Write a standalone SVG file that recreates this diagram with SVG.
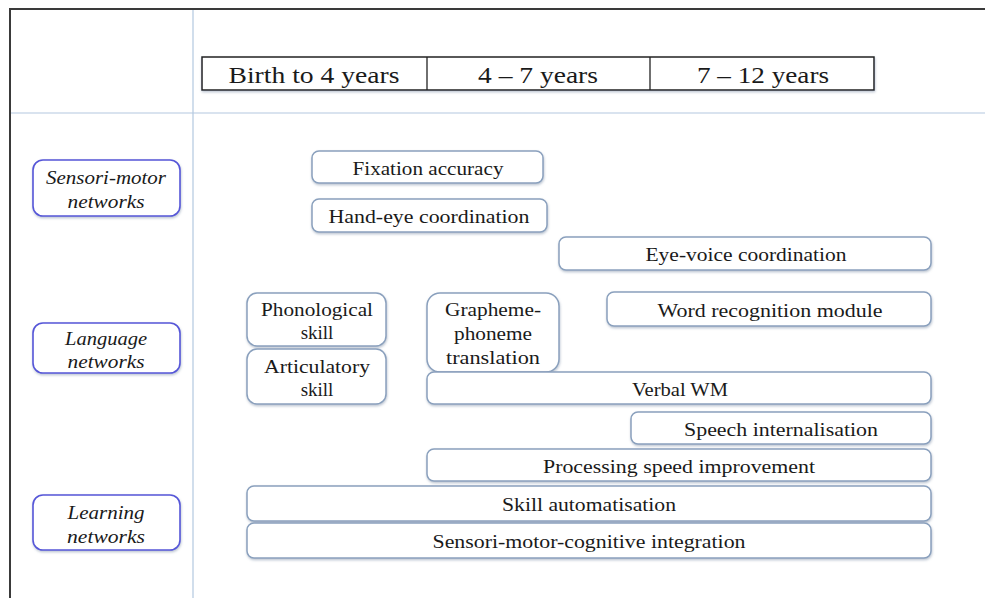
<svg xmlns="http://www.w3.org/2000/svg" width="985" height="598" viewBox="0 0 985 598">
<defs>
<filter id="sh" x="-5%" y="-20%" width="110%" height="150%">
<feDropShadow dx="0.5" dy="1.5" stdDeviation="1" flood-color="#6a7f99" flood-opacity="0.45"/>
</filter>
</defs>
<style>
.bg{fill:#ffffff}
.frame{stroke:#3a3a3a;stroke-width:2;fill:none}
.grid{stroke:#b3c8e0;stroke-width:1.2;fill:none}
.hdr{fill:#ffffff;stroke:#222;stroke-width:1.5}
.hdrdiv{stroke:#222;stroke-width:1.3}
.node{fill:#ffffff;stroke:#8aa0bd;stroke-width:1.5;filter:url(#sh)}
.cat{fill:#ffffff;stroke:#5656d8;stroke-width:1.6;filter:url(#sh)}
text{font-family:"Liberation Serif","DejaVu Serif",serif;fill:#1a1a1a;text-anchor:middle}
.h{font-size:24px}
.t{font-size:19px}
.it{font-size:19px;font-style:italic}
</style>
<rect class="bg" x="0" y="0" width="985" height="598"/>
<g id="frame">
<line class="frame" x1="10" y1="9" x2="10" y2="598"/>
<line class="frame" x1="9" y1="9" x2="985" y2="9"/>
<line class="grid" x1="193" y1="10" x2="193" y2="598"/>
<line class="grid" x1="11" y1="113" x2="985" y2="113"/>
</g>
<g id="header">
<rect class="hdr" x="202" y="57" width="672" height="33" filter="url(#sh)"/>
<line class="hdrdiv" x1="427" y1="57" x2="427" y2="90"/>
<line class="hdrdiv" x1="650" y1="57" x2="650" y2="90"/>
<text class="h" x="314" y="83" textLength="171" lengthAdjust="spacingAndGlyphs">Birth to 4 years</text>
<text class="h" x="538" y="83" textLength="120" lengthAdjust="spacingAndGlyphs">4 – 7 years</text>
<text class="h" x="763" y="83" textLength="132" lengthAdjust="spacingAndGlyphs">7 – 12 years</text>
</g>
<g id="cat-sensori">
<rect class="cat" x="33" y="160" width="147" height="56" rx="10"/>
<text class="it" x="106" y="184" textLength="120" lengthAdjust="spacingAndGlyphs">Sensori-motor</text>
<text class="it" x="106" y="208" textLength="77" lengthAdjust="spacingAndGlyphs">networks</text>
</g>
<g id="cat-language">
<rect class="cat" x="33" y="323" width="147" height="50" rx="10"/>
<text class="it" x="106" y="345" textLength="82" lengthAdjust="spacingAndGlyphs">Language</text>
<text class="it" x="106" y="368" textLength="77" lengthAdjust="spacingAndGlyphs">networks</text>
</g>
<g id="cat-learning">
<rect class="cat" x="33" y="495" width="147" height="55" rx="10"/>
<text class="it" x="106" y="519" textLength="77" lengthAdjust="spacingAndGlyphs">Learning</text>
<text class="it" x="106" y="543" textLength="78" lengthAdjust="spacingAndGlyphs">networks</text>
</g>
<g id="fixation">
<rect class="node" x="312" y="151" width="231" height="32" rx="7"/>
<text class="t" x="428" y="175" textLength="151" lengthAdjust="spacingAndGlyphs">Fixation accuracy</text>
</g>
<g id="handeye">
<rect class="node" x="312" y="199" width="235" height="33" rx="7"/>
<text class="t" x="429" y="223" textLength="201" lengthAdjust="spacingAndGlyphs">Hand-eye coordination</text>
</g>
<g id="eyevoice">
<rect class="node" x="559" y="237" width="372" height="33" rx="7"/>
<text class="t" x="746" y="261" textLength="201" lengthAdjust="spacingAndGlyphs">Eye-voice coordination</text>
</g>
<g id="phonological">
<rect class="node" x="247" y="293" width="139" height="53" rx="10"/>
<text class="t" x="317" y="316" textLength="112" lengthAdjust="spacingAndGlyphs">Phonological</text>
<text class="t" x="317" y="339">skill</text>
</g>
<g id="articulatory">
<rect class="node" x="247" y="349" width="139" height="55" rx="10"/>
<text class="t" x="317" y="373" textLength="106" lengthAdjust="spacingAndGlyphs">Articulatory</text>
<text class="t" x="317" y="396">skill</text>
</g>
<g id="grapheme">
<rect class="node" x="427" y="293" width="132" height="79" rx="13"/>
<text class="t" x="493" y="316" textLength="96" lengthAdjust="spacingAndGlyphs">Grapheme-</text>
<text class="t" x="493" y="340" textLength="78" lengthAdjust="spacingAndGlyphs">phoneme</text>
<text class="t" x="493" y="364" textLength="94" lengthAdjust="spacingAndGlyphs">translation</text>
</g>
<g id="wordrec">
<rect class="node" x="607" y="292" width="324" height="34" rx="7"/>
<text class="t" x="770" y="317" textLength="225" lengthAdjust="spacingAndGlyphs">Word recognition module</text>
</g>
<g id="verbalwm">
<rect class="node" x="427" y="372" width="504" height="32" rx="7"/>
<text class="t" x="680" y="396" textLength="96" lengthAdjust="spacingAndGlyphs">Verbal WM</text>
</g>
<g id="speech">
<rect class="node" x="631" y="412" width="300" height="32" rx="7"/>
<text class="t" x="781" y="436" textLength="194" lengthAdjust="spacingAndGlyphs">Speech internalisation</text>
</g>
<g id="processing">
<rect class="node" x="427" y="449" width="504" height="32" rx="7"/>
<text class="t" x="679" y="473" textLength="272" lengthAdjust="spacingAndGlyphs">Processing speed improvement</text>
</g>
<g id="automatisation">
<rect class="node" x="247" y="486" width="684" height="35" rx="7"/>
<text class="t" x="589" y="511" textLength="174" lengthAdjust="spacingAndGlyphs">Skill automatisation</text>
</g>
<g id="integration">
<rect class="node" x="247" y="523" width="684" height="35" rx="7"/>
<text class="t" x="589" y="548" textLength="313" lengthAdjust="spacingAndGlyphs">Sensori-motor-cognitive integration</text>
</g>
</svg>
